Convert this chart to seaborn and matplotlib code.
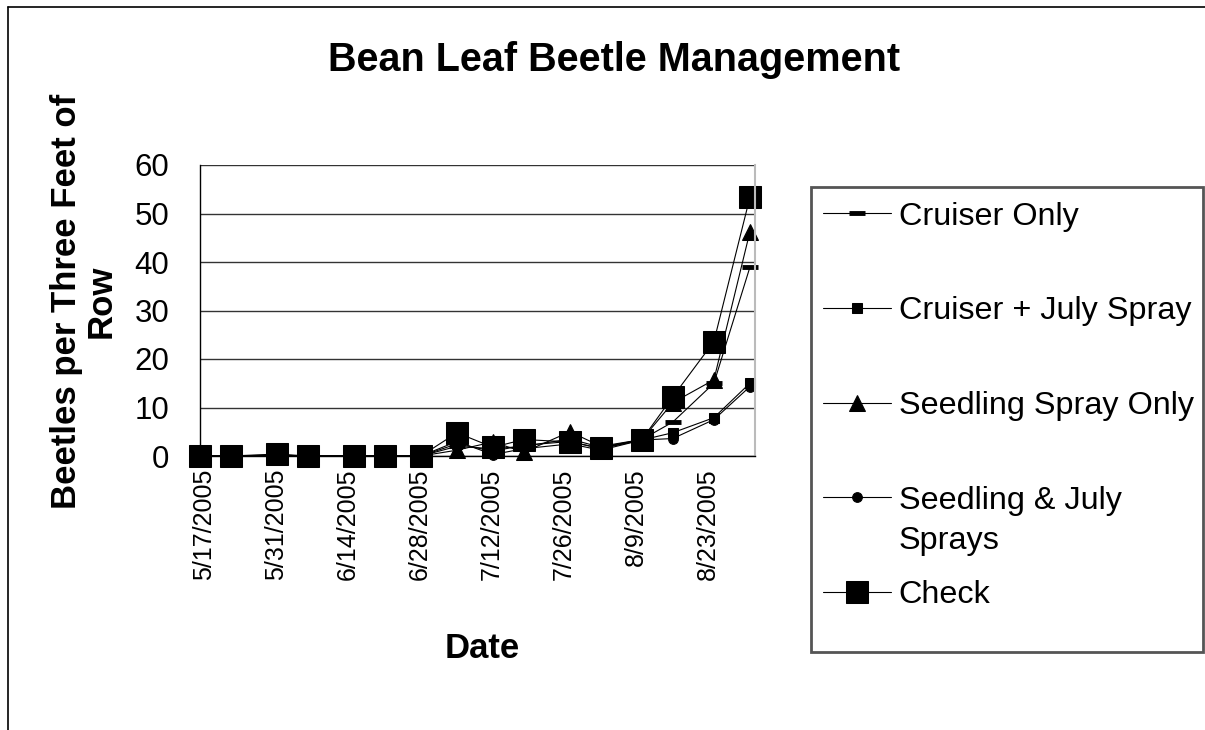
import pandas as pd
import seaborn as sns
import matplotlib.pyplot as plt
import matplotlib.transforms as mtransforms
from matplotlib.lines import Line2D
from matplotlib.patches import Rectangle

# Bean leaf beetle counts per sampling date

dates = ['2005-05-17', '2005-05-23', '2005-06-01', '2005-06-07', '2005-06-16',
         '2005-06-22', '2005-06-29', '2005-07-06', '2005-07-13', '2005-07-19',
         '2005-07-28', '2005-08-03', '2005-08-11', '2005-08-17', '2005-08-25',
         '2005-09-01']

cruiser_only = [0, 0, 0, 0, 0, 0, 0, 2.0, 1.5, 2.0, 3.5, 1.8, 3.4, 7.0, 15.0, 38.9]
cruiser_july = [0, 0, 0, 0, 0, 0, 0, 2.5, 1.0, 2.2, 3.0, 1.5, 3.3, 4.8, 7.9, 15.0]
seedling_spray = [0, 0, 0.2, 0, 0, 0, 0, 1.2, 2.9, 0.8, 5.0, 2.0, 3.4, 11.0, 15.7, 46.2]
seedling_july = [0, 0, 0, 0, 0, 0, 0, 3.0, 0.3, 1.5, 2.5, 1.2, 3.3, 3.6, 7.5, 14.3]
check = [0, 0, 0.4, 0, 0, 0, 0, 4.8, 1.8, 3.4, 2.9, 1.6, 3.4, 12.2, 23.6, 53.3]

series_names = ['Cruiser Only', 'Cruiser + July Spray', 'Seedling Spray Only',
                'Seedling & July Sprays', 'Check']
series_vals = [cruiser_only, cruiser_july, seedling_spray, seedling_july, check]

tick_dates = ['2005-05-17', '2005-05-31', '2005-06-14', '2005-06-28',
              '2005-07-12', '2005-07-26', '2005-08-09', '2005-08-23']
y_ticks = [0, 10, 20, 30, 40, 50, 60]

# marker style per series
styles = {
    'Cruiser Only': dict(marker='_', markersize=12, markeredgewidth=3.5),
    'Cruiser + July Spray': dict(marker='s', markersize=6.5),
    'Seedling Spray Only': dict(marker='^', markersize=11),
    'Seedling & July Sprays': dict(marker='o', markersize=7),
    'Check': dict(marker='s', markersize=16.5),
}

sns.set_style('white')
plt.rcParams['font.family'] = ['Liberation Sans', 'DejaVu Sans']
plt.rcParams['text.color'] = 'black'
plt.rcParams['axes.labelcolor'] = 'black'
plt.rcParams['xtick.color'] = 'black'
plt.rcParams['ytick.color'] = 'black'

df = pd.DataFrame({'Date': pd.to_datetime(dates)})
for name, vals in zip(series_names, series_vals):
    df[name] = vals
long_df = df.melt(id_vars='Date', var_name='Series', value_name='Beetles')

fig = plt.figure(figsize=(12.05, 7.30), dpi=100)
ax = fig.add_axes([200 / 1205, 1 - 456 / 730, 555 / 1205, 291 / 730])

for name in series_names:
    sub = long_df[long_df['Series'] == name]
    sns.lineplot(data=sub, x='Date', y='Beetles', ax=ax, color='black',
                 linewidth=0.8, markeredgecolor='black', markerfacecolor='black',
                 label=name, clip_on=False, **styles[name])

ax.set_xlim(pd.Timestamp('2005-05-17'), pd.Timestamp('2005-09-02'))
ax.set_ylim(0, 60)
ax.set_yticks(y_ticks)
ax.set_yticklabels([str(v) for v in y_ticks], fontsize=22.5)
tick_pos = pd.to_datetime(tick_dates)
ax.set_xticks(tick_pos)
ax.set_xticklabels([f'{d.month}/{d.day}/{d.year}' for d in tick_pos],
                   rotation=90, fontsize=18)
ax.tick_params(axis='both', direction='out', length=8, width=1, color='black')
ax.tick_params(axis='y', pad=14)
ax.tick_params(axis='x', pad=1)
shift = mtransforms.ScaledTranslation(4 / 100, 0, fig.dpi_scale_trans)
for lbl in ax.get_xticklabels():
    lbl.set_transform(lbl.get_transform() + shift)

ax.yaxis.grid(True, color='#333333', linewidth=1)
ax.set_axisbelow(True)
for side in ['left', 'bottom']:
    ax.spines[side].set_color('black')
    ax.spines[side].set_linewidth(1)
ax.spines['right'].set_color('#bbbbbb')
ax.spines['right'].set_linewidth(1.5)
ax.spines['top'].set_visible(False)
ax.set_xlabel('')
ax.set_ylabel('')

# legend: entries in a frameless legend, box drawn separately, the long
# label wraps onto a second line the way the original does
handles, labels = ax.get_legend_handles_labels()
labels = ['Seedling & July' if lab == 'Seedling & July Sprays' else lab
          for lab in labels]
ax.get_legend().remove()
leg = fig.legend(handles, labels, loc='upper left',
                 bbox_to_anchor=(808 / 1205, 1 - 187 / 730),
                 fontsize=23.3, frameon=False, labelspacing=2.0,
                 handlelength=2.1, handletextpad=0.25, borderpad=0.45,
                 borderaxespad=0)
fig.text(899 / 1205, 1 - 541 / 730, 'Sprays', ha='left', va='center',
         fontsize=23.3)
fig.add_artist(Rectangle((811 / 1205, 1 - 652 / 730), 392 / 1205, 465 / 730,
                         transform=fig.transFigure, fill=False,
                         edgecolor='#555555', linewidth=2))

fig.text(614 / 1205, 1 - 60 / 730, 'Bean Leaf Beetle Management',
         ha='center', va='center', fontsize=28.5, fontweight='bold')
fig.text(84 / 1205, 1 - 301 / 730, 'Beetles per Three Feet of\nRow',
         ha='center', va='center', rotation=90, fontsize=25,
         fontweight='bold', multialignment='center', linespacing=1.08)
fig.text(482 / 1205, 1 - 648 / 730, 'Date', ha='center', va='center',
         fontsize=25, fontweight='bold')

# outer chart border (only top and left edges are inside the picture)
fig.add_artist(Line2D([8 / 1205, 8 / 1205], [0, 1 - 7 / 730],
                      color='black', linewidth=1.2))
fig.add_artist(Line2D([8 / 1205, 1], [1 - 7 / 730, 1 - 7 / 730],
                      color='black', linewidth=1.2))

fig.savefig('out.png', dpi=100)
